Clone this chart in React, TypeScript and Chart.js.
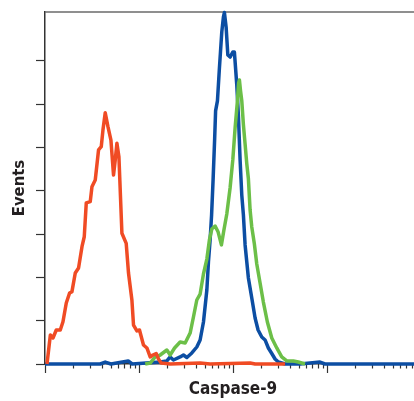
import React, { useEffect, useRef } from "react";
import { Chart, registerables } from "chart.js";

Chart.register(...registerables);

// Fluorescence channel (log scale) and event counts
const redX = [1.05, 1.14, 1.216, 1.318, 1.454, 1.553, 1.684, 1.826, 1.936, 2.099, 2.275, 2.474, 2.616, 2.748, 3.029, 3.159, 3.424, 3.712, 3.966, 4.135, 4.373, 4.673, 5.028, 5.358, 5.587, 5.823, 6.115, 6.58, 7.31, 7.733, 8.405, 8.74, 9.5, 10.12, 11.16, 12.13, 13.15, 14.05, 15.23, 16.12, 17.2, 21.5, 44.7, 57.1, 152, 172, 358];
const redY = [0, 26.8, 24, 31.4, 31.4, 39, 56.3, 65.5, 66.8, 84, 88.6, 108.3, 117.5, 148.7, 149.9, 163.7, 169.9, 197.6, 200.6, 216, 232, 219.1, 206.8, 174.5, 188.4, 203.8, 191.4, 120.7, 111.4, 84, 59.1, 36, 30.5, 31.4, 17.5, 14.8, 6.5, 8.3, 9.7, 4.6, 0.9, 0, 1, 0, 1, 0, 0];

const greenX = [11.64, 13.15, 14.87, 16.8, 19.8, 21.46, 23.9, 27.4, 30.97, 35.0, 37.95, 41.2, 44.7, 48.5, 52.7, 56.1, 59.5, 64.5, 69.5, 75.3, 80.4, 85.9, 93.1, 99.5, 105.3, 111.4, 114.7, 117, 120.4, 124, 129, 134.5, 140.2, 145.8, 152, 158.4, 168.8, 179, 194.1, 210.4, 232.1, 258.5, 292.1, 330, 373, 438.5, 495.5, 584];
const greenY = [0, 0.9, 6.5, 8.3, 12.9, 8.3, 14.8, 20.3, 19.4, 28.6, 43.4, 59.1, 64.6, 83.1, 96.9, 114.5, 124.6, 127.4, 121.8, 110, 124.6, 138.5, 162.5, 188.4, 217.9, 242.8, 259.5, 262.2, 252, 243, 221, 203, 184.7, 171, 142.2, 126.5, 110.8, 92.3, 74.8, 57.2, 38.8, 24, 14.8, 6.5, 2.8, 2.8, 1.8, 0];

const blueX = [1, 3.87, 4.373, 5.03, 7.68, 8.47, 16.8, 19.8, 21.46, 23.26, 27.4, 29.7, 32.3, 36.5, 41.2, 44.7, 48.5, 52.7, 54.8, 57.1, 59.2, 61.4, 63.8, 65.3, 68.3, 71.7, 76, 79.1, 81, 84.5, 88.1, 93.1, 99.5, 103.5, 109.7, 114.1, 119, 124, 129, 134.5, 140.2, 145.8, 158.4, 171.8, 184.9, 202.3, 219.3, 237.8, 258.5, 280.2, 303.7, 357.8, 516.5, 842.5, 952, 10000];
const blueY = [0, 0, 1.8, 0, 2.8, 0, 1.8, 2.8, 6.5, 3.7, 6.5, 8.3, 6, 10.2, 15.7, 22.2, 38.8, 68.3, 94.2, 114.5, 137.6, 170, 207.8, 233.7, 243, 273.3, 306.6, 320.5, 324.5, 311, 285.3, 283.4, 288, 288, 257.6, 229.9, 188.4, 156, 137.6, 109.9, 94.2, 79.4, 61, 42.5, 31.4, 24.9, 22.2, 14.8, 9.7, 4.6, 1.8, 0, 0, 1.8, 0, 0];

const yTickValues = [0, 40, 80, 120, 160, 200, 240, 280];
const xDecades = [1, 10, 100, 1000];
const xSubSteps = [1, 2, 3, 4, 5, 6, 7, 8, 9];
const xTitle = "Caspase-9";
const yTitle = "Events";

const RED = "#f04b24";
const GREEN = "#6cbf48";
const BLUE = "#0c4ea3";
const AXIS = "#333333";
const FONT = "'DejaVu Sans Condensed', 'DejaVu Sans', sans-serif";

const toPoints = (xs: number[], ys: number[]) => xs.map((x, i) => ({ x, y: ys[i] }));

const decorPlugin = {
  id: "decor",
  beforeDatasetsDraw(chart: any) {
    const { ctx, chartArea, scales } = chart;
    const x = scales.x;
    ctx.save();
    ctx.strokeStyle = "#6a6a6a";
    ctx.lineWidth = 1.5;
    ctx.beginPath();
    ctx.moveTo(chartArea.left, chartArea.top);
    ctx.lineTo(chartArea.right, chartArea.top);
    ctx.stroke();
    ctx.strokeStyle = AXIS;
    ctx.lineWidth = 1.2;
    for (const t of x.ticks) {
      const px = Math.round(x.getPixelForValue(t.value)) + 0.5;
      const lg = Math.log10(t.value);
      const major = Math.abs(lg - Math.round(lg)) < 1e-6;
      const len = major ? 9 : 4.5;
      ctx.beginPath();
      ctx.moveTo(px, chartArea.bottom);
      ctx.lineTo(px, chartArea.bottom + len);
      ctx.stroke();
    }
    ctx.restore();
  },
};

export default function App() {
  const ref = useRef<HTMLCanvasElement | null>(null);
  useEffect(() => {
    if (!ref.current) return;
    const line = (data: any, color: string, order: number) => ({
      data,
      borderColor: color,
      backgroundColor: color,
      borderWidth: 3.5,
      pointRadius: 0,
      tension: 0,
      fill: false,
      borderJoinStyle: "round",
      order,
      clip: 5,
    });
    const chart = new Chart(ref.current, {
      type: "line",
      data: {
        datasets: [
          line(toPoints(redX, redY), RED, 0),
          line(toPoints(greenX, greenY), GREEN, 1),
          line(toPoints(blueX, blueY), BLUE, 2),
        ] as any,
      },
      options: {
        animation: false,
        responsive: false,
        devicePixelRatio: 1,
        layout: { padding: { left: 0, right: 1, top: 12, bottom: 0 } },
        plugins: { legend: { display: false }, tooltip: { enabled: false } },
        scales: {
          x: {
            type: "logarithmic",
            min: 1,
            max: 10000,
            z: 1,
            grid: { display: false },
            border: { display: true, color: AXIS, width: 1.5 },
            ticks: { display: false },
            afterBuildTicks: (scale: any) => {
              const ticks: any[] = [];
              xDecades.forEach((d) => xSubSteps.forEach((s) => ticks.push({ value: d * s })));
              ticks.push({ value: 10000 });
              scale.ticks = ticks;
            },
            afterFit: (scale: any) => {
              scale.height = 37;
            },
            title: {
              display: true,
              text: xTitle,
              color: "#231f20",
              font: { family: FONT, size: 17, weight: "bold" },
              padding: { top: 0, bottom: 0.8 },
            },
          },
          y: {
            type: "linear",
            min: 0,
            max: 325,
            grid: { display: true, drawOnChartArea: false, drawTicks: true, tickLength: 9, tickColor: AXIS, tickWidth: 1.2 },
            border: { display: true, color: AXIS, width: 1.5 },
            ticks: { display: false },
            afterBuildTicks: (scale: any) => {
              scale.ticks = yTickValues.map((v) => ({ value: v }));
            },
            afterFit: (scale: any) => {
              scale.width = 45;
            },
            title: {
              display: true,
              text: yTitle,
              color: "#231f20",
              font: { family: FONT, size: 16.5, weight: "bold" },
              padding: { top: 10, bottom: 0 },
            },
          },
        },
      } as any,
      plugins: [decorPlugin],
    });
    return () => chart.destroy();
  }, []);
  return (
    <div style={{ position: "absolute", left: 0, top: 0, width: 414, height: 401, overflow: "hidden", background: "#fff" }}>
      <canvas ref={ref} width={422} height={401} style={{ display: "block", width: 422, height: 401 }} />
    </div>
  );
}
